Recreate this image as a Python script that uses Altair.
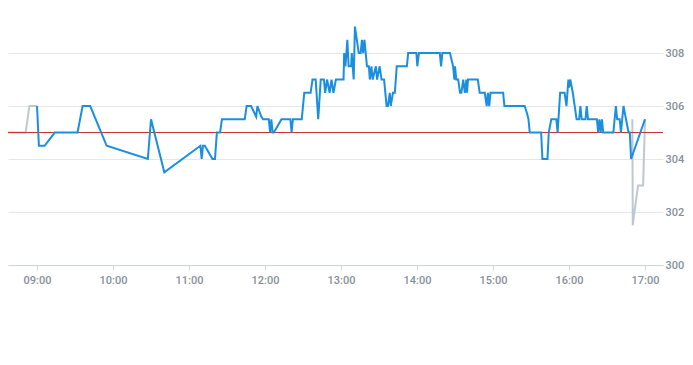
import altair as alt
import pandas as pd

DAY = "2024-01-02T"

blue_times = [
    "09:00:00", "09:01:30", "09:06:00", "09:14:00", "09:32:00", "09:36:00", "09:42:00", "09:55:00",
    "10:27:30", "10:30:00", "10:40:30", "11:09:00", "11:10:00", "11:11:00", "11:12:30", "11:18:30",
    "11:20:30", "11:22:00", "11:24:30", "11:26:00", "11:44:00", "11:45:30", "11:49:00", "11:53:00",
    "11:54:00", "11:57:00", "11:58:30", "12:03:00", "12:04:00", "12:05:00", "12:06:00", "12:07:00",
    "12:13:00", "12:20:00", "12:21:00", "12:22:00", "12:29:00", "12:31:00", "12:36:00", "12:37:30",
    "12:40:00", "12:42:00", "12:44:00", "12:46:30", "12:47:30", "12:49:00", "12:51:00", "12:52:30",
    "12:54:00", "12:56:00", "13:02:00", "13:02:30", "13:03:30", "13:05:00", "13:06:00", "13:08:00",
    "13:08:30", "13:10:00", "13:11:00", "13:12:30", "13:14:00", "13:15:30", "13:16:30", "13:17:30",
    "13:18:30", "13:20:30", "13:22:00", "13:22:45", "13:24:00", "13:25:00", "13:27:30", "13:28:30",
    "13:30:30", "13:32:00", "13:34:00", "13:36:00", "13:37:00", "13:38:30", "13:39:15", "13:41:00",
    "13:42:30", "13:44:00", "13:52:00", "13:53:00", "13:59:30", "14:00:15", "14:01:30", "14:18:00",
    "14:19:00", "14:20:00", "14:26:00", "14:28:30", "14:29:30", "14:30:00", "14:31:00", "14:32:30",
    "14:34:00", "14:35:00", "14:36:30", "14:37:45", "14:39:00", "14:39:30", "14:40:15", "14:48:00",
    "14:49:30", "14:53:30", "14:55:00", "14:56:00", "14:57:00", "14:58:00", "15:08:00", "15:09:00",
    "15:25:00", "15:27:00", "15:28:00", "15:29:00", "15:38:00", "15:39:00", "15:43:00", "15:44:00",
    "15:46:00", "15:50:00", "15:51:00", "15:53:00", "15:56:30", "15:58:00", "15:58:45", "15:59:30",
    "16:00:00", "16:01:00", "16:03:00", "16:04:30", "16:06:00", "16:08:00", "16:09:00", "16:10:00",
    "16:13:00", "16:14:00", "16:15:00", "16:22:00", "16:23:00", "16:24:00", "16:25:00", "16:26:00",
    "16:27:00", "16:35:00", "16:37:00", "16:38:00", "16:40:00", "16:41:00", "16:43:00", "16:45:00",
    "16:47:00", "16:48:00", "16:49:00", "17:00:00",
]
blue_values = [
    306, 304.5, 304.5, 305, 305, 306, 306, 304.5,
    304, 305.5, 303.5, 304.5, 304, 304.5, 304.5, 304,
    304, 305, 305, 305.5, 305.5, 306, 306, 305.6,
    306, 305.6, 305.5, 305.5, 305, 305.5, 305, 305,
    305.5, 305.5, 305, 305.5, 305.5, 306.5, 306.5, 307,
    307, 305.5, 307, 307, 306.5, 307, 306.5, 307,
    306.5, 307, 307, 308, 307.5, 308.5, 307.5, 307.5,
    308, 307, 309, 308.5, 308, 308, 308.5, 308,
    308.5, 307.5, 307.5, 307, 307.5, 307, 307.5, 307,
    307.5, 307, 307, 306, 306, 306.5, 306, 306.5,
    306.5, 307.5, 307.5, 308, 308, 307.5, 308, 308,
    307.5, 308, 308, 307.5, 307, 307.5, 307, 307,
    306.5, 306.5, 307, 306.5, 307, 306.5, 307, 307,
    306.5, 306.5, 306, 306.5, 306, 306.5, 306.5, 306,
    306, 305.7, 305.5, 305, 305, 304, 304, 305,
    305.5, 305.5, 305, 306.5, 306.5, 306, 306.5, 307,
    306.7, 307, 306.5, 306, 305.5, 305.5, 306, 305.5,
    305.5, 306, 305.5, 305.5, 305, 305.5, 305, 305.5,
    305, 305, 306, 305.5, 305.5, 305, 306, 305.5,
    305, 305, 304, 305.5,
]

gray_times = ["08:30:00", "08:51:00", "08:54:00", "09:00:00",
              "16:50:00", "16:50:20", "16:51:40", "16:54:30", "16:58:30", "17:00:00"]
gray_values = [305, 305, 306, 306,
               305.5, 301.5, 302, 303, 303, 305.5]
gray_segments = ["pre", "pre", "pre", "pre",
                 "post", "post", "post", "post", "post", "post"]

reference_value = [305]
x_tick_hours = [9, 10, 11, 12, 13, 14, 15, 16, 17]
y_ticks = [300, 302, 304, 306, 308]

blue_df = pd.DataFrame({"t": [DAY + t for t in blue_times], "v": blue_values})
gray_df = pd.DataFrame({"t": [DAY + t for t in gray_times], "v": gray_values, "seg": gray_segments})
ref_df = pd.DataFrame({"v": reference_value})


def dt(h, m=0, s=0):
    return alt.DateTime(year=2024, month=1, date=2, hours=h, minutes=m, seconds=s)


x_scale = alt.Scale(domain=[dt(8, 37, 6), dt(17, 14, 12)])
y_scale = alt.Scale(domain=[300, 309.7], nice=False, zero=False)

x_axis = alt.Axis(
    values=[dt(h) for h in x_tick_hours], format="%H:%M", title=None, grid=False,
    domainColor="#cfd4da", tickColor="#cfd4da", tickSize=5, labelPadding=4,
    labelColor="#87909a", labelFontSize=11, labelFont="Roboto", labelFontWeight=500,
)
y_axis = alt.Axis(
    orient="right", values=y_ticks, title=None, grid=True, gridColor="#e3e6ea",
    domain=False, ticks=False, labelPadding=2, labelColor="#87909a",
    labelFontSize=11, labelFont="Roboto", labelFontWeight=500,
)

gray = alt.Chart(gray_df).mark_line(color="#bfc8d0", strokeWidth=2, clip=True).encode(
    x=alt.X("t:T", scale=x_scale, axis=x_axis),
    y=alt.Y("v:Q", scale=y_scale, axis=y_axis),
    detail="seg:N",
)

ref = alt.Chart(ref_df).mark_rule(color="#c9302c", strokeWidth=1).encode(
    y=alt.Y("v:Q", scale=y_scale),
)

blue = alt.Chart(blue_df).mark_line(color="#1a8fe0", strokeWidth=2, clip=True).encode(
    x=alt.X("t:T", scale=x_scale),
    y=alt.Y("v:Q", scale=y_scale),
)

chart = alt.layer(gray, ref, blue).properties(
    width=655, height=257,
    autosize=alt.AutoSizeParams(type="none"),
    padding={"left": 0, "top": 0, "right": 22, "bottom": 90},
).configure_view(stroke=None)

chart.save("out.html", embed_options={"renderer": "svg", "actions": False})
